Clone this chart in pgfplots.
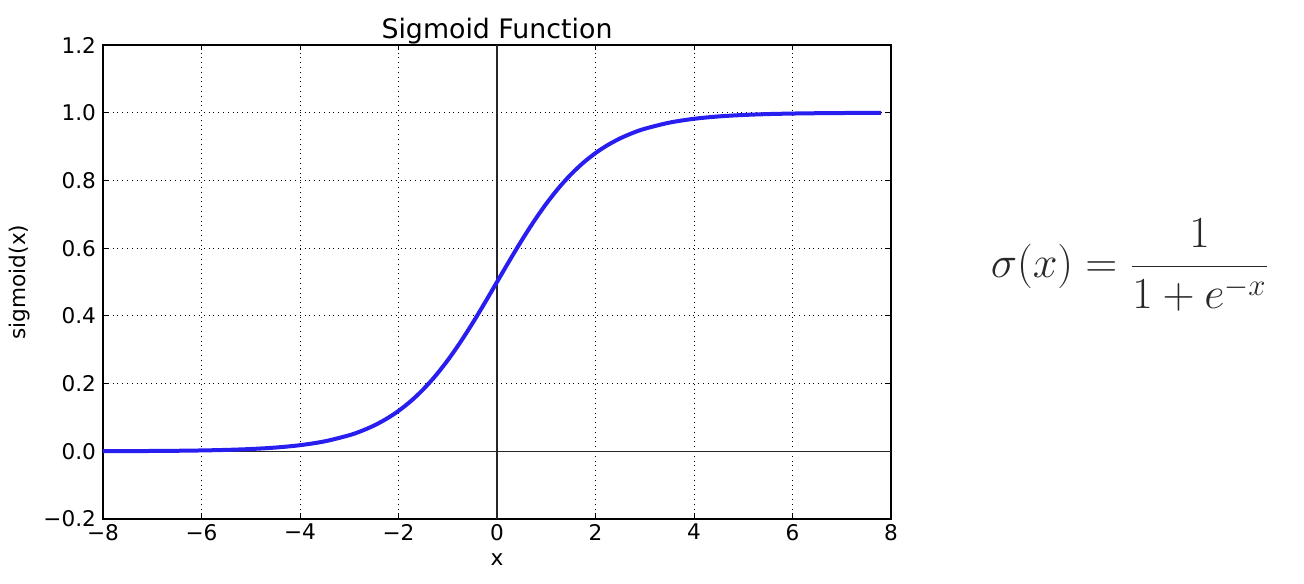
\documentclass[border=0pt]{standalone}
\usepackage{pgfplots}
\pgfplotsset{compat=1.18}
\usepackage{fontspec}
\setmainfont{DejaVu Sans}
\definecolor{curveblue}{RGB}{40,30,240}
\definecolor{formulagray}{RGB}{40,40,40}

\begin{document}
\begin{tikzpicture}
% fix the page to the reference proportions (1px = 0.5pt)
\useasboundingbox (-51.5pt,-32pt) rectangle (600.5pt,259.5pt);
\begin{axis}[
    at={(0,0)}, anchor=south west,
    scale only axis,
    width=394pt, height=237pt,
    xmin=-8, xmax=8, ymin=-0.2, ymax=1.2,
    xtick={-8,-6,...,8},
    xticklabels={−8,−6,−4,−2,0,2,4,6,8},
    ytick={-0.2,0,0.2,0.4,0.6,0.8,1.0,1.2},
    yticklabels={−0.2,0.0,0.2,0.4,0.6,0.8,1.0,1.2},
    tick align=inside,
    major tick length=2.5pt,
    tick style={black, line width=0.5pt},
    grid=major,
    major grid style={black, dotted, line width=0.4pt},
    axis line style={black, line width=0.6pt},
    ticklabel style={font=\fontsize{10.8}{12}\selectfont},
    xticklabel style={yshift=1pt},
    title={Sigmoid Function},
    title style={font=\fontsize{13.4}{15}\selectfont, yshift=-9pt},
    xlabel={x},
    ylabel={sigmoid(x)},
    label style={font=\fontsize{10.8}{12}\selectfont},
]
    \addplot[black!85, line width=0.6pt, forget plot] coordinates {(-8,0) (8,0)};
    \addplot[black!85, line width=0.6pt, forget plot] coordinates {(0,-0.2) (0,1.2)};
    \addplot[curveblue, line width=2pt, smooth] coordinates {
        (-8,0.000335) (-7.5,0.000553) (-7,0.000911) (-6.5,0.001501)
        (-6,0.002473) (-5.5,0.004070) (-5,0.006693) (-4.5,0.010987)
        (-4,0.017986) (-3.5,0.029312) (-3,0.047426) (-2.75,0.060087)
        (-2.5,0.075858) (-2.25,0.095349) (-2,0.119203) (-1.75,0.148047)
        (-1.5,0.182426) (-1.25,0.222700) (-1,0.268941) (-0.75,0.320821)
        (-0.5,0.377541) (-0.25,0.437823) (0,0.5) (0.25,0.562177)
        (0.5,0.622459) (0.75,0.679179) (1,0.731059) (1.25,0.777300)
        (1.5,0.817574) (1.75,0.851953) (2,0.880797) (2.25,0.904651)
        (2.5,0.924142) (2.75,0.939913) (3,0.952574) (3.5,0.970688)
        (4,0.982014) (4.5,0.989013) (5,0.993307) (5.5,0.995930)
        (6,0.997527) (6.5,0.998499) (7,0.999089) (7.5,0.999447)
        (7.8,0.999590)
    };
\end{axis}
\node[text=formulagray, font=\fontsize{20.74}{25}\selectfont, scale=1.07, transform shape]
    at (513.5pt,127pt)
    {$\displaystyle \sigma(x) = \frac{1}{1+e^{-x}}$};
\end{tikzpicture}
\end{document}
